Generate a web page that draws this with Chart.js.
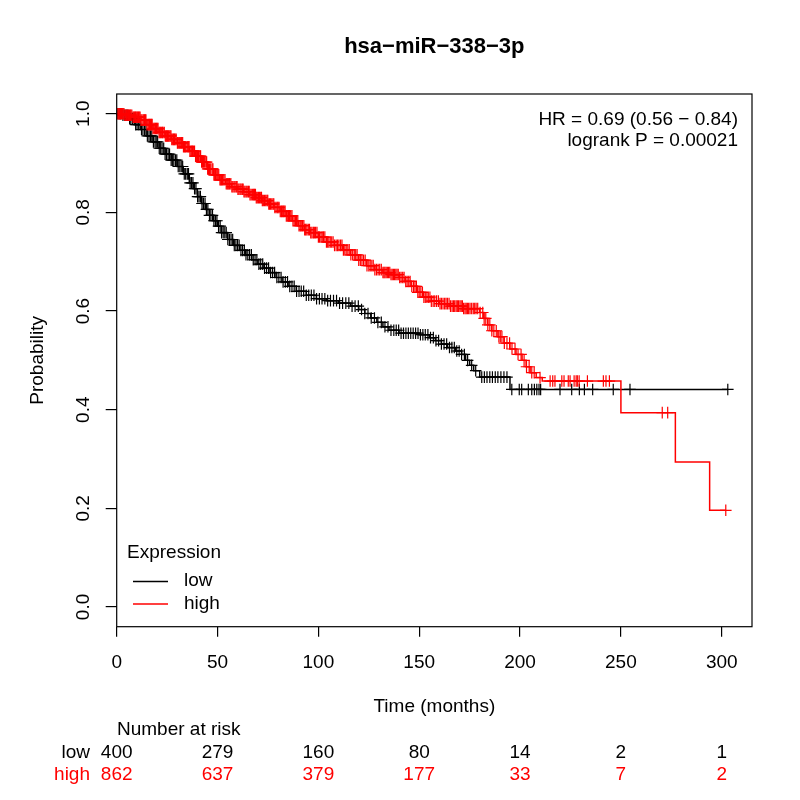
<!DOCTYPE html>
<html>
<head>
<meta charset="utf-8">
<script src="https://cdn.jsdelivr.net/npm/chart.js@4.4.1/dist/chart.umd.min.js"></script>
<style>
  html, body { margin: 0; padding: 0; background: #fff; }
  #wrap { width: 800px; height: 800px; }
</style>
</head>
<body>
<div id="wrap"><canvas id="km" width="800" height="800"></canvas></div>
<script>
// KM steps: time (months) and survival after the drop
const lowTimes = [0, 3, 6, 9, 12, 15, 18, 21, 24, 27, 30, 33, 36, 38, 40, 42, 44, 46, 48, 50, 52, 55, 58, 61, 64, 67, 70, 73, 76, 79, 82, 85, 89, 94, 99, 104, 110, 116, 120, 123, 126, 129, 132, 135, 140, 150, 155, 158, 161, 164, 168, 171, 173, 175, 177, 180, 195];
const lowSurv = [1, 0.997, 0.99, 0.978, 0.968, 0.955, 0.943, 0.93, 0.918, 0.906, 0.893, 0.878, 0.86, 0.848, 0.832, 0.818, 0.806, 0.794, 0.783, 0.772, 0.759, 0.745, 0.733, 0.723, 0.714, 0.704, 0.695, 0.687, 0.678, 0.668, 0.659, 0.65, 0.64, 0.632, 0.625, 0.621, 0.616, 0.61, 0.603, 0.595, 0.586, 0.577, 0.568, 0.561, 0.555, 0.552, 0.546, 0.54, 0.533, 0.526, 0.519, 0.512, 0.5, 0.49, 0.479, 0.466, 0.441];
const highTimes = [0, 4, 8, 12, 15, 18, 21, 24, 27, 30, 33, 36, 39, 42, 45, 48, 51, 54, 57, 60, 63, 66, 69, 72, 75, 78, 81, 84, 87, 90, 93, 96, 100, 104, 108, 112, 116, 120, 124, 128, 132, 136, 140, 143, 146, 149, 152, 156, 160, 165, 172, 180, 182, 184, 186, 189, 192, 195, 198, 201, 203, 205, 208, 211, 250, 277, 294];
const highSurv = [1, 0.997, 0.993, 0.987, 0.978, 0.97, 0.962, 0.955, 0.948, 0.941, 0.933, 0.924, 0.914, 0.902, 0.888, 0.876, 0.866, 0.858, 0.852, 0.847, 0.842, 0.836, 0.83, 0.824, 0.817, 0.81, 0.802, 0.793, 0.783, 0.773, 0.765, 0.759, 0.75, 0.74, 0.733, 0.724, 0.714, 0.703, 0.692, 0.684, 0.678, 0.674, 0.668, 0.66, 0.65, 0.638, 0.628, 0.62, 0.615, 0.61, 0.605, 0.597, 0.585, 0.572, 0.56, 0.548, 0.535, 0.523, 0.512, 0.5, 0.487, 0.475, 0.465, 0.458, 0.394, 0.294, 0.196];
const lowEnd = 303;
const highEnd = 302;

// censored times (the "+" marks)
const lowCensor = [1.2, 2, 3.1, 4, 4.7, 5.5, 6.4, 7, 7.8, 8.6, 9.4, 10.1, 10.9, 11.6, 12.3, 13, 13.8, 14.5, 15.2, 16, 16.7, 17.4, 18.2, 19, 19.6, 20.3, 21.1, 21.8, 22.5, 23.3, 24, 24.7, 25.5, 26.2, 27, 27.6, 28.3, 29.1, 29.8, 30.5, 31.3, 32, 32.7, 33.5, 34.2, 35, 35.6, 36.4, 37.1, 37.8, 38.6, 39.3, 40.1, 40.8, 41.5, 42.3, 43, 43.8, 44.5, 45.2, 46, 46.7, 47.5, 48.2, 49, 49.7, 50.5, 51.3, 52, 52.8, 53.6, 54.3, 55.1, 55.9, 56.7, 57.5, 58.3, 59.1, 59.9, 60.7, 61.6, 62.4, 63.3, 64.1, 65, 65.9, 66.8, 67.7, 68.6, 69.5, 70.5, 71.4, 72.4, 73.3, 74.3, 75.3, 76.3, 77.3, 78.3, 79.4, 80.4, 81.5, 82.5, 83.6, 84.7, 85.8, 86.9, 88, 89.2, 90.4, 91.5, 92.7, 94, 95.2, 96.5, 97.8, 99.1, 100.5, 101.8, 103.2, 104.6, 106, 107.5, 109, 110.5, 112, 113.6, 115.1, 116.7, 118.2, 119.8, 121.4, 123, 124.6, 126.2, 127.8, 129.5, 131.2, 133, 134.5, 136, 137.4, 138.6, 139.8, 141, 142.2, 143.4, 144.6, 145.8, 147, 148.2, 149.4, 150.6, 151.8, 153, 154.3, 155.6, 157, 158.3, 159.6, 161, 162.3, 163.6, 165, 166.2, 167.4, 168.6, 169.8, 171, 172.4, 174, 176, 178, 181, 182.3, 183.6, 185, 186.3, 187.7, 189, 190.5, 192, 193.5, 195.9, 199.6, 200.8, 204.1, 205.8, 207.1, 208.3, 209.4, 210.2, 219.8, 225.6, 229.4, 231.9, 236, 246.2, 254.5, 303];
const highCensor = [0.3, 0.7, 1.1, 1.5, 1.9, 2.4, 2.8, 3.2, 3.6, 4, 4.5, 4.8, 5.2, 5.5, 5.9, 6.3, 6.7, 7, 7.5, 8.1, 8.5, 8.9, 9.3, 9.6, 10, 10.4, 10.8, 11.2, 11.6, 12, 12.5, 13.1, 13.5, 13.8, 14.2, 14.5, 15, 15.6, 16, 16.3, 16.8, 17.2, 17.6, 18, 18.5, 18.9, 19.3, 19.7, 20.1, 20.5, 21, 21.4, 21.8, 22.3, 22.7, 23, 23.6, 24.1, 24.5, 24.8, 25.2, 25.6, 26, 26.5, 26.9, 27.3, 27.8, 28.2, 28.6, 29, 29.5, 30.1, 30.5, 31, 31.4, 31.8, 32.2, 32.7, 33.1, 33.6, 34, 34.4, 35, 35.5, 35.9, 36.3, 36.8, 37.2, 37.6, 38, 38.6, 39.1, 39.5, 40, 40.6, 41.2, 41.6, 42.1, 42.6, 43, 43.6, 44.2, 44.6, 45.1, 45.5, 46, 46.6, 47.3, 47.7, 48.2, 48.6, 49, 49.6, 50.1, 50.6, 51.2, 51.6, 52, 52.5, 53.1, 53.7, 54.3, 54.8, 55.2, 55.6, 56, 56.6, 57.1, 57.6, 58.2, 58.7, 59.3, 59.7, 60.1, 60.6, 61.2, 61.7, 62.3, 62.7, 63.1, 63.6, 64.2, 64.7, 65.3, 65.7, 66.1, 66.7, 67.4, 67.9, 68.3, 68.8, 69.2, 69.7, 70.3, 70.8, 71.4, 71.8, 72.2, 72.7, 73.3, 73.9, 74.5, 74.9, 75.4, 75.8, 76.3, 76.9, 77.5, 77.9, 78.4, 79, 79.6, 80, 80.5, 81.1, 81.7, 82.1, 82.6, 83, 83.5, 84.1, 84.8, 85.2, 85.7, 86.3, 86.9, 87.4, 88, 88.6, 89.2, 89.8, 90.4, 91, 91.5, 92.1, 92.8, 93.2, 93.7, 94.3, 95, 95.6, 96.2, 96.8, 97.5, 98, 98.6, 99.3, 100, 100.6, 101.3, 101.9, 102.5, 103.2, 104, 104.6, 105.2, 105.9, 106.6, 107.3, 108, 108.8, 109.5, 110.2, 111, 111.7, 112.4, 113.1, 113.8, 114.6, 115.3, 116.1, 117, 117.8, 118.5, 119.2, 120, 120.8, 121.6, 122.4, 123.2, 124.1, 125, 125.7, 126.5, 127.2, 128, 128.8, 129.6, 130.4, 131.2, 132, 132.5, 133, 133.6, 134.2, 134.8, 135.4, 136, 136.6, 137.2, 137.8, 138.4, 139, 139.6, 140.3, 141, 141.8, 142.5, 143.3, 144, 144.8, 145.5, 146.3, 147.2, 147.9, 148.6, 149.3, 150, 150.8, 151.6, 152.3, 153, 153.8, 154.5, 155.3, 156, 156.9, 157.7, 158.6, 159.5, 160.3, 161, 161.8, 162.6, 163.3, 164, 164.8, 165.5, 166.3, 167, 167.6, 168.3, 168.9, 169.5, 170.2, 170.8, 171.4, 172, 172.7, 173.3, 173.9, 174.5, 175.2, 176, 176.8, 177.5, 178.2, 179, 180.2, 181.5, 182.2, 183, 184, 185, 186, 187, 188.2, 189.5, 190.2, 191, 192.2, 193.5, 194.8, 196, 197.5, 199, 200.5, 202, 203.2, 204.5, 205.8, 207, 209.9, 214.9, 216.2, 217.3, 220.7, 221.8, 223.9, 224.8, 226.8, 227.8, 228.4, 229.3, 233.4, 241.3, 242.6, 244.3, 270.5, 273.2, 302];

const xTicks = [0, 50, 100, 150, 200, 250, 300];
const yTicks = [0, 0.2, 0.4, 0.6, 0.8, 1.0];
const riskLow = [400, 279, 160, 80, 14, 2, 1];
const riskHigh = [862, 637, 379, 177, 33, 7, 2];

const RED = '#ff0000';
const FONT = '"Liberation Sans", Arial, Helvetica, sans-serif';

function survAt(times, surv, t) {
    let s = surv[0];
    for (let i = 0; i < times.length; i++) {
        if (times[i] <= t) s = surv[i];
    }
    return s;
}

function stepPoints(times, surv, end) {
    const pts = times.map((t, i) => ({ x: t, y: surv[i] }));
    pts.push({ x: end, y: surv[surv.length - 1] });
    return pts;
}

function censorPoints(times, surv, cens) {
    return cens.map(t => ({ x: t, y: survAt(times, surv, t) }));
}

// box, rotated y labels, titles, legend and the risk table
const decor = {
    id: 'decor',
    afterDraw(chart) {
        const { ctx, chartArea: a, scales: { x, y } } = chart;
        ctx.save();
        ctx.strokeStyle = '#000';
        ctx.lineWidth = 1.2;
        ctx.strokeRect(a.left, a.top, a.right - a.left, a.bottom - a.top);

        ctx.fillStyle = '#000';
        ctx.textBaseline = 'middle';
        ctx.font = '19px ' + FONT;
        ctx.textAlign = 'center';
        yTicks.forEach(v => {
            ctx.save();
            ctx.translate(84, y.getPixelForValue(v));
            ctx.rotate(-Math.PI / 2);
            ctx.fillText(v.toFixed(1), 0, 0);
            ctx.restore();
        });

        ctx.save();
        ctx.translate(38, (a.top + a.bottom) / 2);
        ctx.rotate(-Math.PI / 2);
        ctx.fillText('Probability', 0, 0);
        ctx.restore();

        const midX = (a.left + a.right) / 2;
        ctx.fillText('Time (months)', midX, 707);

        ctx.font = 'bold 22px ' + FONT;
        ctx.fillText('hsa\u2212miR\u2212338\u22123p', midX, 47);

        ctx.font = '19px ' + FONT;
        ctx.textAlign = 'right';
        ctx.fillText('HR = 0.69 (0.56 \u2212 0.84)', 738, 120);
        ctx.fillText('logrank P = 0.00021', 738, 141);

        // legend
        ctx.textAlign = 'left';
        ctx.fillText('Expression', 127, 553);
        ctx.fillText('low', 184, 581);
        ctx.fillText('high', 184, 604);
        ctx.lineWidth = 1.3;
        ctx.strokeStyle = '#000';
        ctx.beginPath(); ctx.moveTo(133, 581.5); ctx.lineTo(168, 581.5); ctx.stroke();
        ctx.strokeStyle = RED;
        ctx.beginPath(); ctx.moveTo(133, 604); ctx.lineTo(168, 604); ctx.stroke();

        // number at risk
        ctx.fillStyle = '#000';
        ctx.fillText('Number at risk', 117, 730);
        ctx.textAlign = 'right';
        ctx.fillText('low', 90, 753);
        ctx.fillStyle = RED;
        ctx.fillText('high', 90, 775);
        ctx.textAlign = 'center';
        xTicks.forEach((t, i) => {
            const px = x.getPixelForValue(t);
            ctx.fillStyle = '#000';
            ctx.fillText(String(riskLow[i]), px, 753);
            ctx.fillStyle = RED;
            ctx.fillText(String(riskHigh[i]), px, 775);
        });
        ctx.restore();
    }
};

const ctx = document.getElementById('km').getContext('2d');

new Chart(ctx, {
    type: 'line',
    data: {
        datasets: [
            {
                data: censorPoints(highTimes, highSurv, highCensor),
                showLine: false,
                pointStyle: 'cross',
                pointRadius: 5.8,
                pointBorderWidth: 1.2,
                borderColor: RED
            },
            {
                data: stepPoints(highTimes, highSurv, highEnd),
                stepped: true,
                borderColor: RED,
                borderWidth: 1.5,
                pointRadius: 0
            },
            {
                data: censorPoints(lowTimes, lowSurv, lowCensor),
                showLine: false,
                pointStyle: 'cross',
                pointRadius: 5.8,
                pointBorderWidth: 1.2,
                borderColor: '#000'
            },
            {
                data: stepPoints(lowTimes, lowSurv, lowEnd),
                stepped: true,
                borderColor: '#000',
                borderWidth: 1.5,
                pointRadius: 0
            }
        ]
    },
    options: {
        responsive: false,
        animation: false,
        events: [],
        layout: { padding: { left: 0, top: 94, right: 48, bottom: 113.3 } },
        plugins: { legend: { display: false }, tooltip: { enabled: false } },
        scales: {
            x: {
                type: 'linear',
                min: 0,
                max: 315,
                afterBuildTicks: s => { s.ticks = xTicks.map(v => ({ value: v })); },
                afterFit: s => { s.height = 60; },
                grid: { drawOnChartArea: false, drawTicks: true, tickLength: 10, color: '#000', lineWidth: 1.2 },
                border: { display: false },
                ticks: { color: '#000', font: { family: FONT, size: 19 }, padding: 15, maxRotation: 0, autoSkip: false }
            },
            y: {
                type: 'linear',
                min: -0.04,
                max: 1.04,
                afterBuildTicks: s => { s.ticks = yTicks.map(v => ({ value: v })); },
                afterFit: s => { s.width = 116.7; },
                grid: { drawOnChartArea: false, drawTicks: true, tickLength: 11, color: '#000', lineWidth: 1.2 },
                border: { display: false },
                ticks: { display: false }
            }
        }
    },
    plugins: [decor]
});
</script>
</body>
</html>
